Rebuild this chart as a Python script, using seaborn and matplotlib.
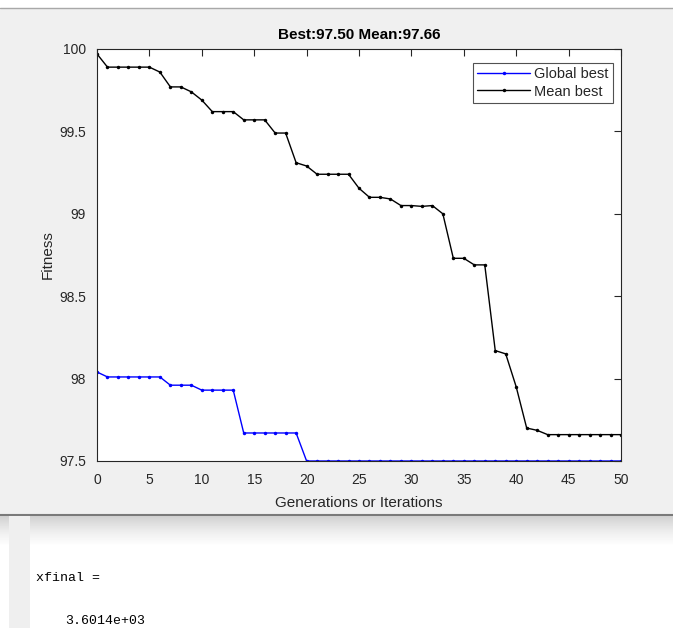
import numpy as np
import pandas as pd
import seaborn as sns
import matplotlib.pyplot as plt
from matplotlib.patches import Rectangle

sns.set_style("white")
plt.rcParams['font.family'] = ['Liberation Sans', 'DejaVu Sans']

# Data
generations = list(range(51))
global_best = [98.04, 98.01, 98.01, 98.01, 98.01, 98.01, 98.01, 97.96, 97.96, 97.96,
               97.93, 97.93, 97.93, 97.93, 97.67, 97.67, 97.67, 97.67, 97.67, 97.67] + [97.50] * 31
mean_best = [99.97, 99.89, 99.89, 99.89, 99.89, 99.89, 99.86, 99.77, 99.77, 99.74,
             99.69, 99.62, 99.62, 99.62, 99.57, 99.57, 99.57, 99.49, 99.49, 99.31,
             99.29, 99.24, 99.24, 99.24, 99.24, 99.155, 99.10, 99.10, 99.09, 99.05,
             99.05, 99.045, 99.05, 99.00, 98.73, 98.73, 98.69, 98.69, 98.17, 98.15,
             97.95, 97.70, 97.686] + [97.66] * 8
ytick_labels = ['97.5', '98', '98.5', '99', '99.5', '100']
title_text = 'Best:97.50 Mean:97.66'
console_name = 'xfinal ='
console_value = '3.6014e+03'

df = pd.DataFrame({'Generation': generations, 'Global best': global_best, 'Mean best': mean_best})

W, H = 673, 628
fig = plt.figure(figsize=(W / 100, H / 100), dpi=100, facecolor='white')

# MATLAB figure window background
fig.patches.append(Rectangle((0, 1 - 515 / H), 1, (515 - 8) / H, transform=fig.transFigure,
                             facecolor='#f0f0f0', edgecolor='none', zorder=-10))
fig.add_artist(plt.Line2D([0, 1], [1 - 8 / H, 1 - 8 / H], color='#a8a8a8', lw=1, zorder=-5))
fig.add_artist(plt.Line2D([0, 1], [1 - 515 / H, 1 - 515 / H], color='#7a7a7a', lw=1.5, zorder=-5))

# Console area below the figure
cax = fig.add_axes([0, 0, 1, (H - 516) / H])
cax.set_xlim(0, W)
cax.set_ylim(H, 516)
cax.axis('off')
grad = np.linspace(0, 1, 30).reshape(-1, 1)
cax.imshow(grad, cmap='Greys_r', vmin=-2.5, vmax=1, extent=(0, W, 546, 516), aspect='auto', zorder=0)
cax.add_patch(Rectangle((9, 516), 21, H - 516, facecolor='#efefef', edgecolor='none', zorder=1))
cax.text(36, 578, console_name, family='Liberation Mono', fontsize=9.5, va='center', color='black')
cax.text(65, 621, console_value, family='Liberation Mono', fontsize=9.5, va='center', color='black')

# Main plot
ax = fig.add_axes([97 / W, 1 - 461 / H, 524 / W, 412 / H])
ax.set_zorder(5)
ax.set_facecolor('white')
sns.lineplot(data=df, x='Generation', y='Global best', ax=ax, color='#0000ff', marker='.',
             markersize=5, markeredgewidth=0, linewidth=1.0, label='Global best')
sns.lineplot(data=df, x='Generation', y='Mean best', ax=ax, color='black', marker='.',
             markersize=5, markeredgewidth=0, linewidth=1.0, label='Mean best')

ax.set_xlim(0, 50)
ax.set_ylim(97.5, 100)
ax.set_xticks(range(0, 51, 5))
ax.set_yticks([float(t) for t in ytick_labels])
ax.set_yticklabels(ytick_labels)
ax.tick_params(direction='in', top=True, right=True, length=5, width=0.8,
               labelsize=10, colors='#262626')
ax.tick_params(axis='x', pad=9)
ax.tick_params(axis='y', pad=8)
for s in ax.spines.values():
    s.set_color('#262626')
    s.set_linewidth(0.8)

ax.set_title(title_text, fontsize=11, fontweight='bold', color='black', pad=7)
ax.set_xlabel('Generations or Iterations', fontsize=11, color='#262626', labelpad=6)
ax.set_ylabel('Fitness', fontsize=11, color='#262626', labelpad=3)

leg = ax.legend(loc='upper right', bbox_to_anchor=(0.9847, 0.966), borderaxespad=0,
                fontsize=10.5, frameon=True, fancybox=False,
                borderpad=0.3, handlelength=3.6, handletextpad=0.3, labelspacing=0.22)
leg.get_frame().set_edgecolor('#262626')
leg.get_frame().set_linewidth(0.8)

fig.savefig('out.png', dpi=100, facecolor=fig.get_facecolor())
